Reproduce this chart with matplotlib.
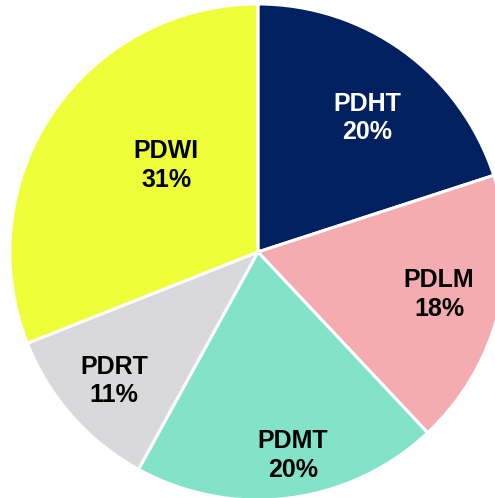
import matplotlib.pyplot as plt

# -------------------- DATA --------------------
labels = ["PDHT", "PDLM", "PDMT", "PDRT", "PDWI"]
shares = [20, 18, 20, 11, 31]
colors = ["#002060", "#F4ACB0", "#82E3C8", "#D9D9DB", "#EEFF3A"]
text_colors = ["white", "black", "black", "black", "black"]
label_pos = [(0.44, 0.54), (0.73, -0.17), (0.14, -0.82), (-0.58, -0.52), (-0.37, 0.35)]

# -------------------- PLOT --------------------
fig = plt.figure(figsize=(4.95, 4.98), dpi=100)
ax = fig.add_axes([0, 0, 1, 1])

ax.pie(shares, colors=colors, startangle=90, counterclock=False,
       wedgeprops=dict(edgecolor="white", linewidth=2.2))

for lab, val, pos, tc in zip(labels, shares, label_pos, text_colors):
    ax.text(pos[0], pos[1], f"{lab}\n{val}%", ha="center", va="center",
            color=tc, fontsize=18, fontweight="bold", family="Liberation Sans",
            linespacing=1.25)

ax.set_xlim(-1.040, 0.956)
ax.set_ylim(-0.992, 1.016)
ax.set_aspect("equal")
ax.axis("off")

fig.savefig("out.png", dpi=100)
